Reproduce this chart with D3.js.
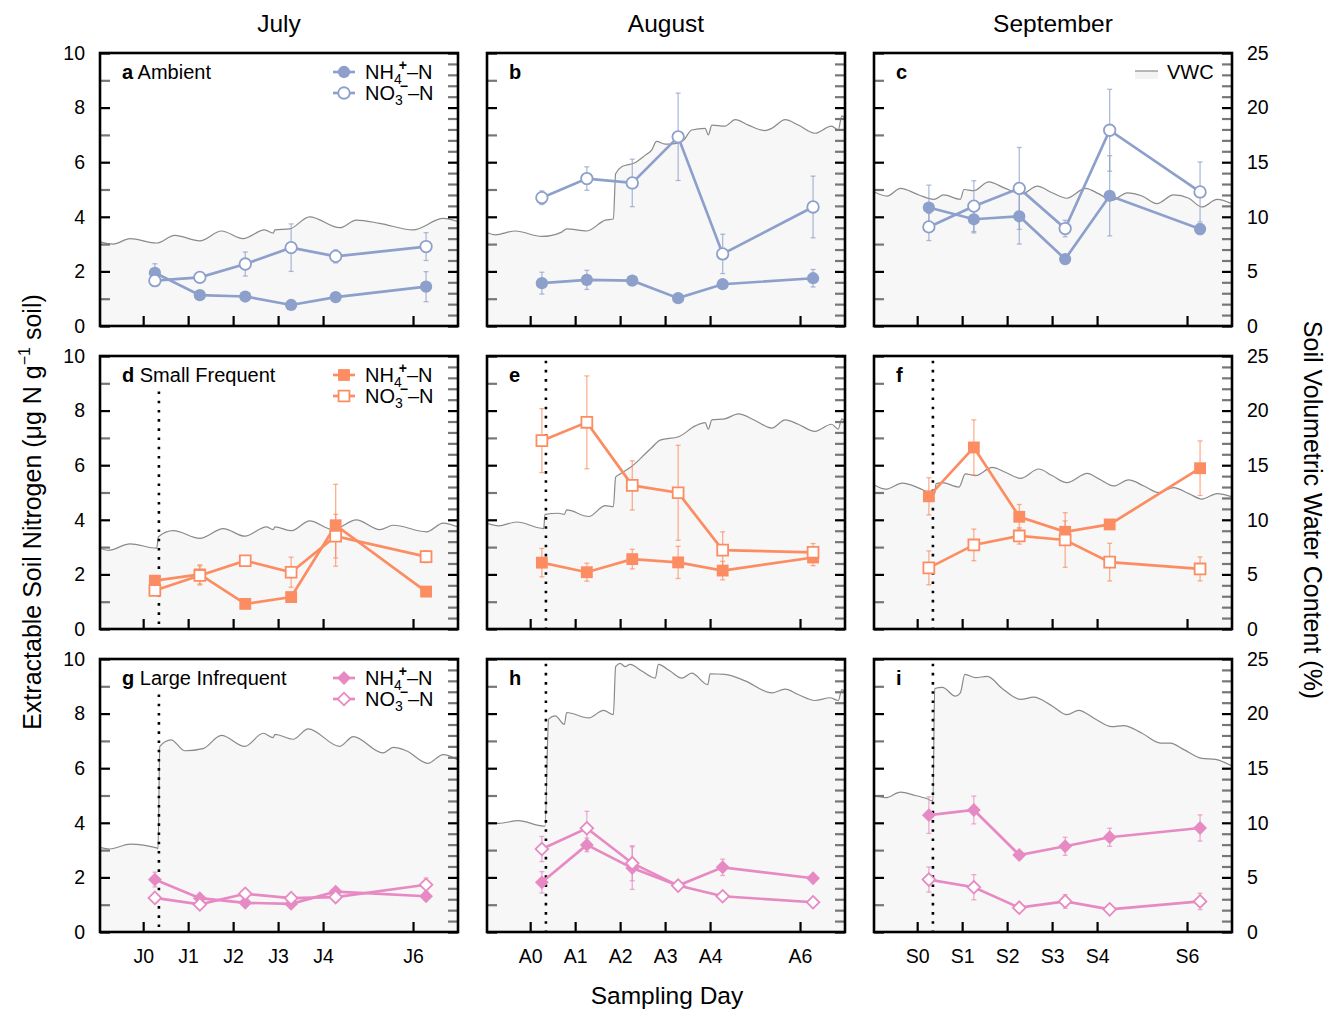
<!DOCTYPE html>
<html>
<head>
<meta charset="utf-8">
<script src="https://cdn.jsdelivr.net/npm/d3@7"></script>
<style>
  body { margin: 0; background: #fff; }
  svg text { font-family: "Liberation Sans", Arial, Helvetica, sans-serif; fill: #000; }
</style>
</head>
<body>
<svg id="chart" width="1333" height="1012"></svg>
<script>
// ---- categories / ticks ----
const months = ['July', 'August', 'September'];
const monthPrefixes = ['J', 'A', 'S'];
const treatments = ['Ambient', 'Small Frequent', 'Large Infrequent'];
const panelLetters = ['a', 'b', 'c', 'd', 'e', 'f', 'g', 'h', 'i'];
const dayTicks = [0, 1, 2, 3, 4, 6];
const sampleDays = [0.26, 1.26, 2.27, 3.29, 4.28, 6.29];
const eventDay = 0.35;
const nitrogenTicks = [0, 1, 2, 3, 4, 5, 6, 7, 8, 9, 10];
const nitrogenLabels = [0, 2, 4, 6, 8, 10];
const vwcTicks = d3.range(0, 26);
const vwcLabels = [0, 5, 10, 15, 20, 25];

// ---- extractable N (ug N / g soil), mean and error ----
const nh4_a = [1.95, 1.13, 1.08, 0.77, 1.06, 1.44];
const nh4Err_a = [0.33, 0.05, 0.05, 0.05, 0.05, 0.55];
const no3_a = [1.66, 1.78, 2.27, 2.87, 2.55, 2.91];
const no3Err_a = [0.17, 0.1, 0.44, 0.87, 0.24, 0.51];

const nh4_b = [1.57, 1.69, 1.66, 1.02, 1.53, 1.75];
const nh4Err_b = [0.4, 0.35, 0.1, 0.05, 0.1, 0.32];
const no3_b = [4.70, 5.40, 5.24, 6.93, 2.64, 4.36];
const no3Err_b = [0.25, 0.43, 0.87, 1.6, 0.72, 1.13];

const nh4_c = [4.34, 3.91, 4.02, 2.45, 4.77, 3.55];
const nh4Err_c = [0.82, 0.5, 1.02, 0.1, 1.47, 0.2];
const no3_c = [3.63, 4.39, 5.04, 3.57, 7.17, 4.91];
const no3Err_c = [0.5, 0.93, 1.5, 0.3, 1.5, 1.1];

const nh4_d = [1.77, 2.0, 0.92, 1.17, 3.80, 1.37];
const nh4Err_d = [0.05, 0.35, 0.05, 0.05, 1.5, 0.05];
const no3_d = [1.41, 1.96, 2.50, 2.08, 3.40, 2.65];
const no3Err_d = [0.08, 0.35, 0.08, 0.55, 0.8, 0.22];

const nh4_e = [2.43, 2.08, 2.56, 2.44, 2.14, 2.62];
const nh4Err_e = [0.52, 0.33, 0.36, 0.59, 0.34, 0.3];
const no3_e = [6.90, 7.57, 5.26, 4.99, 2.89, 2.81];
const no3Err_e = [1.17, 1.7, 0.9, 1.74, 0.67, 0.32];

const nh4_f = [4.86, 6.65, 4.11, 3.56, 3.83, 5.89];
const nh4Err_f = [0.68, 1.01, 0.45, 0.4, 0.1, 1.0];
const no3_f = [2.24, 3.08, 3.41, 3.26, 2.45, 2.2];
const no3Err_f = [0.62, 0.58, 0.3, 1.0, 0.69, 0.44];

const nh4_g = [1.92, 1.24, 1.07, 1.03, 1.48, 1.31];
const nh4Err_g = [0.27, 0.05, 0.05, 0.05, 0.05, 0.1];
const no3_g = [1.25, 1.01, 1.40, 1.24, 1.28, 1.73];
const no3Err_g = [0.08, 0.08, 0.08, 0.08, 0.08, 0.25];

const nh4_h = [1.82, 3.19, 2.34, 1.70, 2.37, 1.97];
const nh4Err_h = [0.39, 0.25, 0.78, 0.1, 0.3, 0.05];
const no3_h = [3.04, 3.80, 2.52, 1.70, 1.31, 1.09];
const no3Err_h = [0.46, 0.62, 0.64, 0.1, 0.05, 0.05];

const nh4_i = [4.28, 4.47, 2.82, 3.14, 3.47, 3.81];
const nh4Err_i = [0.67, 0.51, 0.1, 0.33, 0.33, 0.48];
const no3_i = [1.92, 1.64, 0.89, 1.12, 0.83, 1.12];
const no3Err_i = [0.46, 0.46, 0.08, 0.25, 0.05, 0.3];

// ---- soil volumetric water content, [day, %] ----
const vwc_a = [[-0.96,7.7],[-0.67,7.5],[-0.29,8.0],[0.30,7.6],[0.70,8.3],[1.26,7.8],[1.74,8.7],[2.22,8.0],[2.70,8.8],[2.89,8.5],[2.93,8.8],[3.26,8.9],[3.70,10.0],[4.37,9.0],[4.74,9.7],[5.26,9.4],[6.0,8.8],[6.67,9.85],[7.0,9.55]];
const vwc_b = [[-0.99,8.6],[-0.78,8.35],[-0.33,8.7],[0.26,8.2],[0.70,8.6],[0.81,8.9],[1.26,8.7],[1.67,9.7],[1.85,9.8],[1.90,13.95],[2.04,14.6],[2.33,14.95],[2.56,15.65],[2.70,16.1],[2.81,16.9],[3.0,16.65],[3.22,16.7],[3.41,17.0],[3.59,17.95],[3.89,18.1],[3.96,17.5],[4.04,18.4],[4.33,18.3],[4.56,18.9],[4.85,18.4],[5.22,17.9],[5.37,18.1],[5.67,18.9],[5.96,18.4],[6.33,17.65],[6.70,18.3],[6.85,17.95],[6.93,19.25],[7.0,19.0]];
const vwc_c = [[-0.96,12.3],[-0.67,11.9],[-0.37,12.6],[0.04,12.0],[0.37,11.6],[0.59,12.0],[0.96,11.6],[1.04,12.5],[1.26,12.4],[1.59,13.2],[1.96,12.6],[2.33,12.1],[2.67,12.8],[3.0,12.2],[3.33,11.7],[3.74,12.6],[4.04,12.1],[4.33,11.5],[4.67,12.2],[5.0,11.9],[5.33,11.2],[5.70,12.0],[6.04,11.7],[6.33,10.9],[6.67,11.6],[7.0,11.2]];
const vwc_d = [[-0.96,7.4],[-0.78,7.2],[-0.29,7.8],[0.30,7.4],[0.34,8.45],[0.67,9.0],[1.26,8.3],[1.78,9.2],[2.26,8.5],[2.74,9.35],[2.89,9.1],[2.93,9.35],[3.30,9.0],[3.70,9.9],[4.22,9.1],[4.74,10.0],[5.26,9.1],[5.56,9.5],[6.30,8.9],[6.67,9.7],[7.0,9.35]];
const vwc_e = [[-0.99,9.7],[-0.70,9.45],[-0.30,9.8],[0.30,9.2],[0.33,10.5],[0.63,10.6],[0.76,10.5],[0.81,10.9],[1.30,10.3],[1.67,11.3],[1.85,11.2],[1.90,13.9],[2.0,14.2],[2.26,14.9],[2.56,16.05],[2.70,16.6],[2.89,17.3],[3.30,17.6],[3.67,18.6],[3.89,18.9],[3.96,18.3],[4.04,19.15],[4.33,19.25],[4.63,19.7],[5.0,19.1],[5.37,18.4],[5.67,19.15],[5.96,18.75],[6.33,18.1],[6.70,18.75],[6.85,18.3],[6.93,19.25],[7.0,19.0]];
const vwc_f = [[-0.96,13.2],[-0.70,12.8],[-0.33,13.35],[0.04,12.9],[0.26,12.5],[0.39,12.4],[0.42,13.3],[0.56,13.4],[0.93,13.0],[1.07,14.2],[1.30,14.05],[1.67,14.8],[1.96,14.35],[2.30,13.8],[2.70,14.65],[3.0,14.05],[3.33,13.4],[3.78,14.25],[4.04,13.75],[4.37,13.1],[4.70,13.65],[5.04,13.1],[5.37,12.5],[5.70,12.95],[6.04,12.4],[6.33,11.9],[6.67,12.4],[7.0,12.1]];
const vwc_g = [[-0.96,7.75],[-0.74,7.6],[-0.29,8.05],[0.30,7.7],[0.33,7.6],[0.37,17.0],[0.62,17.6],[0.93,16.6],[1.33,16.8],[1.74,18.0],[2.26,17.0],[2.67,18.2],[2.89,17.8],[2.93,18.1],[3.33,17.65],[3.67,18.6],[4.37,17.0],[4.67,17.9],[5.33,16.4],[5.56,16.9],[5.85,16.6],[6.33,15.45],[6.67,16.25],[7.0,15.75]];
const vwc_h = [[-0.99,10.0],[-0.70,9.95],[-0.26,10.2],[0.30,9.7],[0.33,9.7],[0.41,19.5],[0.56,19.8],[0.76,19.0],[0.81,20.1],[1.30,19.6],[1.63,20.3],[1.85,19.9],[1.90,24.3],[2.0,24.6],[2.11,24.3],[2.22,24.5],[2.48,23.9],[2.78,23.25],[2.85,24.5],[3.11,23.9],[3.37,23.25],[3.59,23.7],[3.95,22.65],[4.0,23.65],[4.33,23.6],[4.78,23.0],[5.37,21.9],[5.67,22.25],[5.96,21.75],[6.33,21.2],[6.67,21.45],[6.85,21.2],[6.93,22.2],[7.0,22.0]];
const vwc_i = [[-0.96,12.5],[-0.70,12.3],[-0.37,12.8],[-0.04,12.5],[0.22,12.2],[0.35,12.0],[0.39,22.3],[0.56,22.4],[0.85,21.6],[0.96,21.9],[1.06,23.6],[1.30,23.3],[1.56,23.4],[1.89,22.3],[2.30,21.3],[2.59,21.5],[3.0,20.7],[3.33,19.9],[3.59,20.3],[3.96,19.5],[4.33,18.8],[4.59,18.9],[5.0,18.2],[5.41,17.3],[5.63,17.3],[5.93,16.7],[6.33,15.9],[6.63,15.8],[7.0,15.2]];

const panelData = [
    {nh4: nh4_a, nh4Err: nh4Err_a, no3: no3_a, no3Err: no3Err_a, vwc: vwc_a},
    {nh4: nh4_b, nh4Err: nh4Err_b, no3: no3_b, no3Err: no3Err_b, vwc: vwc_b},
    {nh4: nh4_c, nh4Err: nh4Err_c, no3: no3_c, no3Err: no3Err_c, vwc: vwc_c},
    {nh4: nh4_d, nh4Err: nh4Err_d, no3: no3_d, no3Err: no3Err_d, vwc: vwc_d},
    {nh4: nh4_e, nh4Err: nh4Err_e, no3: no3_e, no3Err: no3Err_e, vwc: vwc_e},
    {nh4: nh4_f, nh4Err: nh4Err_f, no3: no3_f, no3Err: no3Err_f, vwc: vwc_f},
    {nh4: nh4_g, nh4Err: nh4Err_g, no3: no3_g, no3Err: no3Err_g, vwc: vwc_g},
    {nh4: nh4_h, nh4Err: nh4Err_h, no3: no3_h, no3Err: no3Err_h, vwc: vwc_h},
    {nh4: nh4_i, nh4Err: nh4Err_i, no3: no3_i, no3Err: no3Err_i, vwc: vwc_i}
];

// ---- styling / layout ----
const treatmentColors = ['#8da0cb', '#fc8d62', '#e78ac3'];
const treatmentShapes = ['circle', 'square', 'diamond'];
const panelLeft = [100, 487, 874];
const panelTop = [53, 356, 659];
const panelWidth = 358;
const panelHeight = 273;
const tickFontSize = 19.5;
const labelFontSize = 20;

// chemical label with sub/superscripts, e.g. NH4+-N
function chemLabel(textSel, base, sub, sup, tail) {
    textSel.append('tspan').text(base);
    textSel.append('tspan').attr('font-size', 14).attr('dy', 5).text(sub);
    textSel.append('tspan').attr('font-size', 14).attr('font-weight', 'bold').attr('dx', -3).attr('dy', -14).text(sup);
    textSel.append('tspan').attr('dy', 9).text(tail);
}

function markerPath(shape, open) {
    if (shape === 'circle') return d3.symbol(d3.symbolCircle, open ? 104 : 118)();
    if (shape === 'square') return d3.symbol(d3.symbolSquare, open ? 118 : 140)();
    return d3.symbol(d3.symbolSquare, open ? 80 : 96)();
}

class NitrogenPanel {

    constructor(_config, _data) {
        this.config = {
            parentElement: _config.parentElement,
            left: _config.left,
            top: _config.top,
            width: _config.width || 358,
            height: _config.height || 273,
            color: _config.color,
            shape: _config.shape,
            row: _config.row,
            col: _config.col,
            letter: _config.letter
        };
        this.data = _data;
        this.initVis();
    }

    initVis() {
        let vis = this;

        vis.xScale = d3.scaleLinear().domain([-0.96, 7]).range([0, vis.config.width]);
        vis.yScale = d3.scaleLinear().domain([0, 10]).range([vis.config.height, 0]);
        vis.vwcScale = d3.scaleLinear().domain([0, 25]).range([vis.config.height, 0]);

        vis.chart = d3.select(vis.config.parentElement).append('g')
            .attr('transform', `translate(${vis.config.left},${vis.config.top})`);

        vis.clipId = 'clip-' + vis.config.letter;
        vis.chart.append('clipPath').attr('id', vis.clipId)
            .append('rect')
            .attr('width', vis.config.width)
            .attr('height', vis.config.height);

        vis.renderVis();
    }

    renderVis() {
        let vis = this;
        const {row, col, color, shape} = vis.config;

        // soil water content as a shaded area
        const vwcG = vis.chart.append('g').attr('clip-path', `url(#${vis.clipId})`);
        vwcG.append('path')
            .datum(vis.data.vwc)
            .attr('fill', '#f7f7f7')
            .attr('d', d3.area()
                .x(d => vis.xScale(d[0]))
                .y0(vis.config.height)
                .y1(d => vis.vwcScale(d[1]))
                .curve(d3.curveMonotoneX));
        vwcG.append('path')
            .datum(vis.data.vwc)
            .attr('fill', 'none')
            .attr('stroke', '#8a8a8a')
            .attr('stroke-width', 1.2)
            .attr('d', d3.line()
                .x(d => vis.xScale(d[0]))
                .y(d => vis.vwcScale(d[1]))
                .curve(d3.curveMonotoneX));

        // first rain event (not for ambient)
        if (row > 0) {
            vis.chart.append('line')
                .attr('x1', vis.xScale(eventDay)).attr('x2', vis.xScale(eventDay))
                .attr('y1', vis.yScale(col === 0 ? 8.7 : 9.83))
                .attr('y2', vis.config.height)
                .attr('stroke', '#000')
                .attr('stroke-width', 2.6)
                .attr('stroke-dasharray', '2.6,6.6');
        }

        const series = [
            {values: vis.data.nh4, errors: vis.data.nh4Err, open: false},
            {values: vis.data.no3, errors: vis.data.no3Err, open: true}
        ];

        // error bars
        series.forEach(s => {
            const pts = s.values.map((v, i) => ({x: sampleDays[i], v: v, e: s.errors[i]}));
            const eb = vis.chart.append('g')
                .attr('stroke', color)
                .attr('stroke-opacity', 0.7)
                .attr('stroke-width', 1.3);
            eb.selectAll('.stem').data(pts).join('line')
                .attr('x1', d => vis.xScale(d.x)).attr('x2', d => vis.xScale(d.x))
                .attr('y1', d => vis.yScale(d.v - d.e)).attr('y2', d => vis.yScale(d.v + d.e));
            eb.selectAll('.cap-top').data(pts).join('line')
                .attr('x1', d => vis.xScale(d.x) - 2.5).attr('x2', d => vis.xScale(d.x) + 2.5)
                .attr('y1', d => vis.yScale(d.v + d.e)).attr('y2', d => vis.yScale(d.v + d.e));
            eb.selectAll('.cap-bottom').data(pts).join('line')
                .attr('x1', d => vis.xScale(d.x) - 2.5).attr('x2', d => vis.xScale(d.x) + 2.5)
                .attr('y1', d => vis.yScale(d.v - d.e)).attr('y2', d => vis.yScale(d.v - d.e));
        });

        // lines + markers
        series.forEach(s => {
            const pts = s.values.map((v, i) => ({x: sampleDays[i], v: v}));
            vis.chart.append('path')
                .datum(pts)
                .attr('fill', 'none')
                .attr('stroke', color)
                .attr('stroke-width', 2.7)
                .attr('d', d3.line().x(d => vis.xScale(d.x)).y(d => vis.yScale(d.v)));
            vis.chart.selectAll(null).data(pts).join('path')
                .attr('d', markerPath(shape, s.open))
                .attr('transform', d => `translate(${vis.xScale(d.x)},${vis.yScale(d.v)})` + (shape === 'diamond' ? ' rotate(45)' : ''))
                .attr('fill', s.open ? '#fff' : color)
                .attr('stroke', color)
                .attr('stroke-width', s.open ? 1.8 : 0);
        });

        // axes: ticks point inward
        const styleTicks = (g, stroke) => {
            g.select('.domain').remove();
            g.selectAll('.tick line').attr('stroke', stroke).attr('stroke-width', 2.2);
            g.selectAll('text').attr('font-size', tickFontSize).attr('font-family', null);
        };

        vis.chart.append('g')
            .call(d3.axisLeft(vis.yScale).tickValues(nitrogenTicks.filter(t => t % 2 === 1)).tickSize(-10).tickFormat(''))
            .call(g => styleTicks(g, '#777'));
        vis.chart.append('g')
            .call(d3.axisLeft(vis.yScale).tickValues(nitrogenLabels).tickSize(-10).tickPadding(15)
                .tickFormat(col === 0 ? d3.format('d') : ''))
            .call(g => styleTicks(g, '#000'));

        vis.chart.append('g')
            .attr('transform', `translate(${vis.config.width},0)`)
            .call(d3.axisRight(vis.vwcScale).tickValues(vwcTicks.filter(t => t % 5 !== 0)).tickSize(-10).tickFormat(''))
            .call(g => styleTicks(g, '#777'));
        vis.chart.append('g')
            .attr('transform', `translate(${vis.config.width},0)`)
            .call(d3.axisRight(vis.vwcScale).tickValues(vwcLabels).tickSize(-10).tickPadding(15)
                .tickFormat(col === 2 ? d3.format('d') : ''))
            .call(g => styleTicks(g, '#000'));

        vis.chart.append('g')
            .attr('transform', `translate(0,${vis.config.height})`)
            .call(d3.axisBottom(vis.xScale).tickValues(dayTicks).tickSize(-10).tickPadding(17)
                .tickFormat(row === 2 ? d => monthPrefixes[col] + d : ''))
            .call(g => styleTicks(g, '#000'));

        // frame
        vis.chart.append('rect')
            .attr('width', vis.config.width)
            .attr('height', vis.config.height)
            .attr('fill', 'none')
            .attr('stroke', '#000')
            .attr('stroke-width', 2.6);

        // panel label
        const label = vis.chart.append('text')
            .attr('x', 22)
            .attr('y', 25.5)
            .attr('font-size', labelFontSize);
        label.append('tspan').attr('font-weight', 'bold').text(vis.config.letter);
        if (col === 0) label.append('tspan').text(' ' + treatments[row]);

        // legends
        if (col === 0) {
            series.forEach((s, i) => {
                const ly = 19 + i * 21;
                const lg = vis.chart.append('g').attr('transform', `translate(233,${ly})`);
                lg.append('line').attr('x1', 0).attr('x2', 22)
                    .attr('stroke', color).attr('stroke-width', 2.7);
                lg.append('path')
                    .attr('d', markerPath(shape, s.open))
                    .attr('transform', 'translate(11,0)' + (shape === 'diamond' ? ' rotate(45)' : ''))
                    .attr('fill', s.open ? '#fff' : color)
                    .attr('stroke', color)
                    .attr('stroke-width', s.open ? 1.8 : 0);
                const t = lg.append('text').attr('x', 32).attr('y', 6.5).attr('font-size', labelFontSize);
                if (i === 0) chemLabel(t, 'NH', '4', '+', '\u2013N');
                else chemLabel(t, 'NO', '3', '\u2212', '\u2013N');
            });
        }
        if (row === 0 && col === 2) {
            const vg = vis.chart.append('g').attr('transform', 'translate(261,18)');
            vg.append('rect').attr('width', 23).attr('height', 8).attr('fill', '#f3f3f3');
            vg.append('line').attr('x1', 0).attr('x2', 23)
                .attr('stroke', '#8a8a8a').attr('stroke-width', 1.2);
            vg.append('text').attr('x', 32).attr('y', 7.5).attr('font-size', labelFontSize).text('VWC');
        }
    }
}

const svg = d3.select('#chart');

panelData.forEach((d, k) => {
    const row = Math.floor(k / 3), col = k % 3;
    new NitrogenPanel({
        parentElement: '#chart',
        left: panelLeft[col],
        top: panelTop[row],
        width: panelWidth,
        height: panelHeight,
        color: treatmentColors[row],
        shape: treatmentShapes[row],
        row: row,
        col: col,
        letter: panelLetters[k]
    }, d);
});

// month titles
svg.selectAll('.month-title').data(months).join('text')
    .attr('class', 'month-title')
    .attr('x', (d, i) => panelLeft[i] + panelWidth / 2)
    .attr('y', 32)
    .attr('text-anchor', 'middle')
    .attr('font-size', 24.5)
    .text(d => d);

// axis titles
svg.append('text')
    .attr('x', 667)
    .attr('y', 1004)
    .attr('text-anchor', 'middle')
    .attr('font-size', 24.5)
    .text('Sampling Day');

const yTitle = svg.append('text')
    .attr('transform', 'translate(41,512) rotate(-90)')
    .attr('text-anchor', 'middle')
    .attr('font-size', 25);
yTitle.append('tspan').text('Extractable Soil Nitrogen (\u03bcg N g');
yTitle.append('tspan').attr('font-size', 16).attr('dy', -11).text('\u22121');
yTitle.append('tspan').attr('dy', 11).text(' soil)');

svg.append('text')
    .attr('transform', 'translate(1304,510) rotate(90)')
    .attr('text-anchor', 'middle')
    .attr('font-size', 25)
    .text('Soil Volumetric Water Content (%)');
</script>
</body>
</html>
